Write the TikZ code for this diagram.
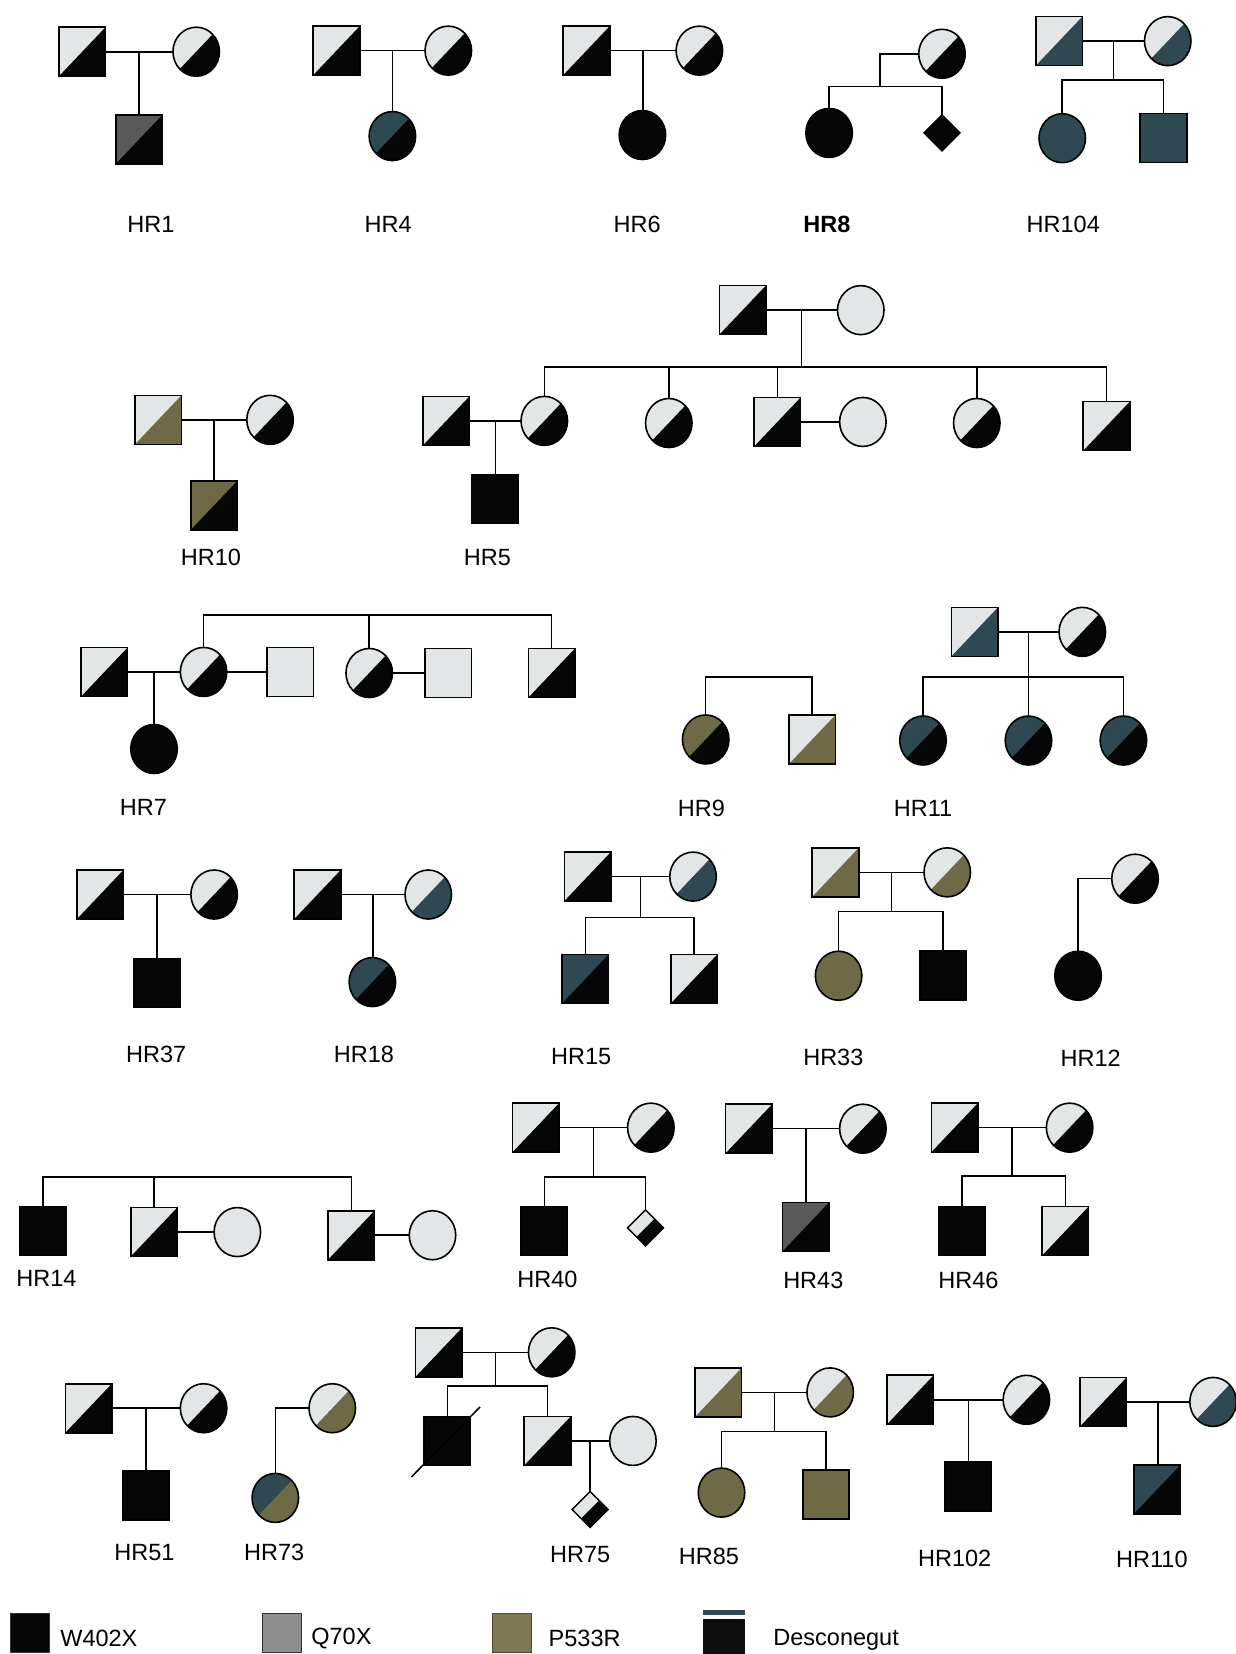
\documentclass[tikz,border=0pt]{standalone}
\usepackage{fontspec}
\setmainfont{Liberation Sans}
\usetikzlibrary{shapes.geometric,calc}
\definecolor{lt}{HTML}{E3E6E6}
\definecolor{bk}{HTML}{060606}
\definecolor{gr}{HTML}{595959}
\definecolor{ol}{HTML}{6F6A45}
\definecolor{tl}{HTML}{2F4953}
\definecolor{legq}{HTML}{8E8E8E}
\definecolor{lego}{HTML}{7F7A55}
\definecolor{legd}{HTML}{0E0E0E}
\begin{document}
\begin{tikzpicture}[x=1.0547pt,y=-1.0547pt,
  conn/.style={line width=1.5pt,draw=black},
  sq/.style={rectangle,draw=black,line width=1.6pt,minimum width=46.5pt,minimum height=49pt,inner sep=0pt,outer sep=0pt},
  ci/.style={ellipse,draw=black,line width=1.6pt,minimum width=46.5pt,minimum height=49pt,inner sep=0pt,outer sep=0pt},
  dm/.style={diamond,draw=black,line width=1.4pt,minimum width=36pt,minimum height=36pt,inner sep=0pt,outer sep=0pt},
  hf/.style 2 args={path picture={
     \fill[#1] (path picture bounding box.north west) rectangle (path picture bounding box.south east);
     \fill[#2] (path picture bounding box.south west) -- (path picture bounding box.north east) -- (path picture bounding box.south east) -- cycle;}},
  lab/.style={font=\fontsize{23.5}{26}\selectfont,inner sep=0pt},
  legbox/.style={rectangle,draw=black!80,line width=1pt,minimum width=39pt,minimum height=39pt,inner sep=0pt}]
\useasboundingbox (0,0) rectangle (1171,1568);
\fill[white] (0,0) rectangle (1171,1568);

% ===== Row 1 =====
% HR1
\node[sq,hf={lt}{bk}] (p1f) at (78,49) {};
\node[ci,hf={lt}{bk}] (p1m) at (186,49) {};
\node[sq,hf={gr}{bk}] (p1c) at (132,132) {};
\coordinate (p1j) at ($(p1f.east)!0.5!(p1m.west)$);
\draw[conn,line width=2.2pt] (p1f.east) -- (p1m.west);
\draw[conn] (p1j) -- (p1j |- p1c.north);
\node[lab] (p1l) at (143,213) {HR1};
% HR4
\node[sq,hf={lt}{bk}] (p2f) at (319,48) {};
\node[ci,hf={lt}{bk}] (p2m) at (425,48) {};
\node[ci,hf={tl}{bk}] (p2c) at (372,129) {};
\coordinate (p2j) at ($(p2f.east)!0.5!(p2m.west)$);
\draw[conn] (p2f.east) -- (p2m.west);
\draw[conn] (p2j) -- (p2j |- p2c.north);
\node[lab] (p2l) at (368,213) {HR4};
% HR6
\node[sq,hf={lt}{bk}] (p3f) at (556,48) {};
\node[ci,hf={lt}{bk}] (p3m) at (663,48) {};
\node[ci,fill=bk] (p3c) at (609,128) {};
\coordinate (p3j) at ($(p3f.east)!0.5!(p3m.west)$);
\draw[conn] (p3f.east) -- (p3m.west);
\draw[conn] (p3j) -- (p3j |- p3c.north);
\node[lab] (p3l) at (604,213) {HR6};
% HR8
\node[ci,hf={lt}{bk}] (p4m) at (893,51) {};
\node[ci,fill=bk] (p4a) at (786,126) {};
\node[dm,fill=bk] (p4b) at (893,126) {};
\coordinate (p4s) at (834,82);
\draw[conn] (p4m.west) -| (p4s);
\draw[conn] (p4a.north) |- (p4s) -| (p4b.north);
\node[lab,font=\bfseries\fontsize{23.5}{26}\selectfont] (p4l) at (784,213) {HR8};
% HR104
\node[sq,hf={lt}{tl}] (p5f) at (1004,39) {};
\node[ci,hf={lt}{tl}] (p5m) at (1107,39) {};
\node[ci,fill=tl] (p5a) at (1007,131) {};
\node[sq,fill=tl] (p5b) at (1103,131) {};
\coordinate (p5j) at ($(p5f.east)!0.5!(p5m.west)$);
\coordinate (p5s) at (1055,76);
\draw[conn] (p5f.east) -- (p5m.west);
\draw[conn] (p5j) -- (p5j |- p5s);
\draw[conn] (p5a.north) |- (p5s) -| (p5b.north);
\node[lab] (p5l) at (1008,213) {HR104};

% ===== Row 2 =====
\node[sq,hf={lt}{bk}] (q0f) at (704,294) {};
\node[ci,fill=lt] (q0m) at (816,294) {};
\coordinate (q0j) at ($(q0f.east)!0.5!(q0m.west)$);
\coordinate (q0s) at (760,348);
\draw[conn] (q0f.east) -- (q0m.west);
\draw[conn] (q0j) -- (q0j |- q0s);
\node[ci,hf={lt}{bk}] (q1) at (516,399) {};
\node[ci,hf={lt}{bk}] (q2) at (634,401) {};
\node[sq,hf={lt}{bk}] (q3) at (737,400) {};
\node[ci,fill=lt] (q3s) at (818,400) {};
\node[ci,hf={lt}{bk}] (q4) at (926,401) {};
\node[sq,hf={lt}{bk}] (q5) at (1049,404) {};
\draw[conn] (q1.north) |- (q0s) -| (q5.north);
\draw[conn] (q2.north) -- (q2.north |- q0s);
\draw[conn] (q3.north) -- (q3.north |- q0s);
\draw[conn] (q4.north) -- (q4.north |- q0s);
\draw[conn] (q3.east) -- (q3s.west);
% HR5
\node[sq,hf={lt}{bk}] (q6f) at (423,399) {};
\node[sq,fill=bk] (q6c) at (469,473) {};
\coordinate (q6j) at ($(q6f.east)!0.5!(q1.west)$);
\draw[conn] (q6f.east) -- (q1.west);
\draw[conn] (q6j) -- (q6j |- q6c.north);
\node[lab] (q6l) at (462,529) {HR5};
% HR10
\node[sq,hf={lt}{ol}] (q7f) at (150,398) {};
\node[ci,hf={lt}{bk}] (q7m) at (256,398) {};
\node[sq,hf={ol}{bk}] (q7c) at (203,479) {};
\coordinate (q7j) at ($(q7f.east)!0.5!(q7m.west)$);
\draw[conn] (q7f.east) -- (q7m.west);
\draw[conn] (q7j) -- (q7j |- q7c.north);
\node[lab] (q7l) at (200,528) {HR10};

% ===== Row 3 =====
% HR7
\node[sq,hf={lt}{bk}] (r1f) at (99,637) {};
\node[ci,hf={lt}{bk}] (r1a) at (193,637) {};
\node[sq,fill=lt] (r1as) at (275,637) {};
\node[ci,hf={lt}{bk}] (r1b) at (350,638) {};
\node[sq,fill=lt] (r1bs) at (425,638) {};
\node[sq,hf={lt}{bk}] (r1c) at (523,638) {};
\node[ci,fill=bk] (r1k) at (146,710) {};
\coordinate (r1s) at (350,583);
\coordinate (r1j) at ($(r1f.east)!0.5!(r1a.west)$);
\draw[conn] (r1a.north) |- (r1s) -| (r1c.north);
\draw[conn] (r1b.north) -- (r1b.north |- r1s);
\draw[conn] (r1f.east) -- (r1a.west);
\draw[conn] (r1j) -- (r1j |- r1k.north);
\draw[conn] (r1a.east) -- (r1as.west);
\draw[conn] (r1b.east) -- (r1bs.west);
\node[lab] (r1l) at (136,765) {HR7};
% HR9
\node[ci,hf={ol}{bk}] (r2a) at (669,701) {};
\node[sq,hf={lt}{ol}] (r2b) at (770,701) {};
\coordinate (r2s) at (720,642);
\draw[conn] (r2a.north) |- (r2s) -| (r2b.north);
\node[lab] (r2l) at (665,766) {HR9};
% HR11
\node[sq,hf={lt}{tl}] (r3f) at (924,599) {};
\node[ci,hf={lt}{bk}] (r3m) at (1026,599) {};
\node[ci,hf={tl}{bk}] (r3a) at (875,702) {};
\node[ci,hf={tl}{bk}] (r3b) at (975,702) {};
\node[ci,hf={tl}{bk}] (r3c) at (1065,702) {};
\coordinate (r3j) at ($(r3f.east)!0.5!(r3m.west)$);
\coordinate (r3s) at (975,642);
\draw[conn] (r3f.east) -- (r3m.west);
\draw[conn] (r3j) -- (r3j |- r3s);
\draw[conn] (r3a.north) |- (r3s) -| (r3c.north);
\draw[conn] (r3b.north) -- (r3b.north |- r3s);
\node[lab] (r3l) at (875,766) {HR11};

% ===== Row 4 =====
% HR37
\node[sq,hf={lt}{bk}] (s1f) at (95,848) {};
\node[ci,hf={lt}{bk}] (s1m) at (203,848) {};
\node[sq,fill=bk] (s1c) at (149,932) {};
\coordinate (s1j) at ($(s1f.east)!0.5!(s1m.west)$);
\draw[conn] (s1f.east) -- (s1m.west);
\draw[conn] (s1j) -- (s1j |- s1c.north);
\node[lab] (s1l) at (148,1000) {HR37};
% HR18
\node[sq,hf={lt}{bk}] (s2f) at (301,848) {};
\node[ci,hf={lt}{tl}] (s2m) at (406,848) {};
\node[ci,hf={tl}{bk}] (s2c) at (353,931) {};
\coordinate (s2j) at ($(s2f.east)!0.5!(s2m.west)$);
\draw[conn] (s2f.east) -- (s2m.west);
\draw[conn] (s2j) -- (s2j |- s2c.north);
\node[lab] (s2l) at (345,1000) {HR18};
% HR15
\node[sq,hf={lt}{bk}] (s3f) at (557,831) {};
\node[ci,hf={lt}{tl}] (s3m) at (657,831) {};
\node[sq,hf={tl}{bk}] (s3a) at (555,928) {};
\node[sq,hf={lt}{bk}] (s3b) at (658,928) {};
\coordinate (s3j) at ($(s3f.east)!0.5!(s3m.west)$);
\coordinate (s3s) at (607,870);
\draw[conn] (s3f.east) -- (s3m.west);
\draw[conn] (s3j) -- (s3j |- s3s);
\draw[conn] (s3a.north) |- (s3s) -| (s3b.north);
\node[lab] (s3l) at (551,1002) {HR15};
% HR33
\node[sq,hf={lt}{ol}] (s4f) at (792,827) {};
\node[ci,hf={lt}{ol}] (s4m) at (898,827) {};
\node[ci,fill=ol] (s4a) at (795,925) {};
\node[sq,fill=bk] (s4b) at (894,925) {};
\coordinate (s4j) at ($(s4f.east)!0.5!(s4m.west)$);
\coordinate (s4s) at (845,864);
\draw[conn] (s4f.east) -- (s4m.west);
\draw[conn] (s4j) -- (s4j |- s4s);
\draw[conn] (s4a.north) |- (s4s) -| (s4b.north);
\node[lab] (s4l) at (790,1002) {HR33};
% HR12
\node[ci,hf={lt}{bk}] (s5m) at (1076,833) {};
\node[ci,fill=bk] (s5c) at (1022,925) {};
\draw[conn] (s5m.west) -| (s5c.north);
\node[lab] (s5l) at (1034,1003) {HR12};

% ===== Row 5 =====
% HR14
\node[sq,fill=bk] (t1a) at (41,1167) {};
\node[sq,hf={lt}{bk}] (t1b) at (146,1168) {};
\node[ci,fill=lt] (t1bs) at (225,1168) {};
\node[sq,hf={lt}{bk}] (t1c) at (333,1171) {};
\node[ci,fill=lt] (t1cs) at (410,1171) {};
\coordinate (t1s) at (146,1116);
\draw[conn] (t1a.north) |- (t1s) -| (t1c.north);
\draw[conn] (t1b.north) -- (t1b.north |- t1s);
\draw[conn] (t1b.east) -- (t1bs.west);
\draw[conn] (t1c.east) -- (t1cs.west);
\node[lab] (t1l) at (44,1212) {HR14};
% HR40
\node[sq,hf={lt}{bk}] (t2f) at (508,1069) {};
\node[ci,hf={lt}{bk}] (t2m) at (617,1069) {};
\node[sq,fill=bk] (t2a) at (516,1167) {};
\node[dm,hf={lt}{bk}] (t2b) at (612,1164) {};
\coordinate (t2j) at ($(t2f.east)!0.5!(t2m.west)$);
\coordinate (t2s) at (562,1116);
\draw[conn] (t2f.east) -- (t2m.west);
\draw[conn] (t2j) -- (t2j |- t2s);
\draw[conn] (t2a.north) |- (t2s) -| (t2b.north);
\node[lab] (t2l) at (519,1213) {HR40};
% HR43
\node[sq,hf={lt}{bk}] (t3f) at (710,1070) {};
\node[ci,hf={lt}{bk}] (t3m) at (818,1070) {};
\node[sq,hf={gr}{bk}] (t3c) at (764,1163) {};
\coordinate (t3j) at ($(t3f.east)!0.5!(t3m.west)$);
\draw[conn] (t3f.east) -- (t3m.west);
\draw[conn] (t3j) -- (t3j |- t3c.north);
\node[lab] (t3l) at (771,1214) {HR43};
% HR46
\node[sq,hf={lt}{bk}] (t4f) at (905,1069) {};
\node[ci,hf={lt}{bk}] (t4m) at (1014,1069) {};
\node[sq,fill=bk] (t4a) at (912,1167) {};
\node[sq,hf={lt}{bk}] (t4b) at (1010,1167) {};
\coordinate (t4j) at ($(t4f.east)!0.5!(t4m.west)$);
\coordinate (t4s) at (960,1115);
\draw[conn] (t4f.east) -- (t4m.west);
\draw[conn] (t4j) -- (t4j |- t4s);
\draw[conn] (t4a.north) |- (t4s) -| (t4b.north);
\node[lab] (t4l) at (918,1214) {HR46};

% ===== Row 6 =====
% HR51
\node[sq,hf={lt}{bk}] (u1f) at (84,1335) {};
\node[ci,hf={lt}{bk}] (u1m) at (193,1335) {};
\node[sq,fill=bk] (u1c) at (138,1418) {};
\coordinate (u1j) at ($(u1f.east)!0.5!(u1m.west)$);
\draw[conn] (u1f.east) -- (u1m.west);
\draw[conn] (u1j) -- (u1j |- u1c.north);
\node[lab] (u1l) at (137,1472) {HR51};
% HR73
\node[ci,hf={lt}{ol}] (u2m) at (315,1335) {};
\node[ci,hf={tl}{ol}] (u2c) at (261,1420) {};
\draw[conn] (u2m.west) -| (u2c.north);
\node[lab] (u2l) at (260,1472) {HR73};
% HR75
\node[sq,hf={lt}{bk}] (u3f) at (416,1282) {};
\node[ci,hf={lt}{bk}] (u3m) at (523,1282) {};
\node[sq,fill=bk] (u3a) at (424,1366) {};
\node[sq,hf={lt}{bk}] (u3b) at (519,1366) {};
\node[ci,fill=lt] (u3bs) at (600,1366) {};
\node[dm,hf={lt}{bk}] (u3d) at (559.5,1431) {};
\coordinate (u3j) at ($(u3f.east)!0.5!(u3m.west)$);
\coordinate (u3s) at (470,1314);
\coordinate (u3k) at ($(u3b.east)!0.5!(u3bs.west)$);
\draw[conn] (u3f.east) -- (u3m.west);
\draw[conn] (u3j) -- (u3j |- u3s);
\draw[conn] (u3a.north) |- (u3s) -| (u3b.north);
\draw[conn] (u3b.east) -- (u3bs.west);
\draw[conn] (u3k) -- (u3k |- u3d.north);
\draw[conn] ($(u3a.south west)+(-12,11)$) -- ($(u3a.north east)+(9,-9)$);
\node[lab] (u3l) at (550,1474) {HR75};
% HR85
\node[sq,hf={lt}{ol}] (u4f) at (681,1320) {};
\node[ci,hf={lt}{ol}] (u4m) at (787,1320) {};
\node[ci,fill=ol] (u4a) at (684,1415) {};
\node[sq,fill=ol] (u4b) at (783,1417) {};
\coordinate (u4j) at ($(u4f.east)!0.5!(u4m.west)$);
\coordinate (u4s) at (734,1357);
\draw[conn] (u4f.east) -- (u4m.west);
\draw[conn] (u4j) -- (u4j |- u4s);
\draw[conn] (u4a.north) |- (u4s) -| (u4b.north);
\node[lab] (u4l) at (672,1475) {HR85};
% HR102
\node[sq,hf={lt}{bk}] (u5f) at (863,1327) {};
\node[ci,hf={lt}{bk}] (u5m) at (973,1327) {};
\node[sq,fill=bk] (u5c) at (918,1409) {};
\coordinate (u5j) at ($(u5f.east)!0.5!(u5m.west)$);
\draw[conn] (u5f.east) -- (u5m.west);
\draw[conn] (u5j) -- (u5j |- u5c.north);
\node[lab] (u5l) at (905,1477) {HR102};
% HR110
\node[sq,hf={lt}{bk}] (u6f) at (1046,1329) {};
\node[ci,hf={lt}{tl}] (u6m) at (1150,1329) {};
\node[sq,hf={tl}{bk}] (u6c) at (1097,1412) {};
\coordinate (u6j) at ($(u6f.east)!0.5!(u6m.west)$);
\draw[conn] (u6f.east) -- (u6m.west);
\draw[conn] (u6j) -- (u6j |- u6c.north);
\node[lab] (u6l) at (1092,1478) {HR110};

% ===== Legend =====
\node[legbox,fill=bk] (g1) at (28,1548) {};
\node[lab,anchor=west] (g1t) at (57,1553) {W402X};
\node[legbox,fill=legq] (g2) at (267,1548) {};
\node[lab,anchor=west] (g2t) at (295,1553) {Q70X};
\node[legbox,fill=lego,draw=lego!60!black] (g3) at (485,1548) {};
\node[lab,anchor=west] (g3t) at (520,1553) {P533R};
\node[rectangle,fill=tl,minimum width=42pt,minimum height=5pt,inner sep=0pt] (g4s) at (686,1529) {};
\node[rectangle,fill=legd,minimum width=42pt,minimum height=35pt,inner sep=0pt] (g4) at (686,1551) {};
\node[lab,anchor=west] (g4t) at (733,1555) {Desconegut};
\end{tikzpicture}
\end{document}
